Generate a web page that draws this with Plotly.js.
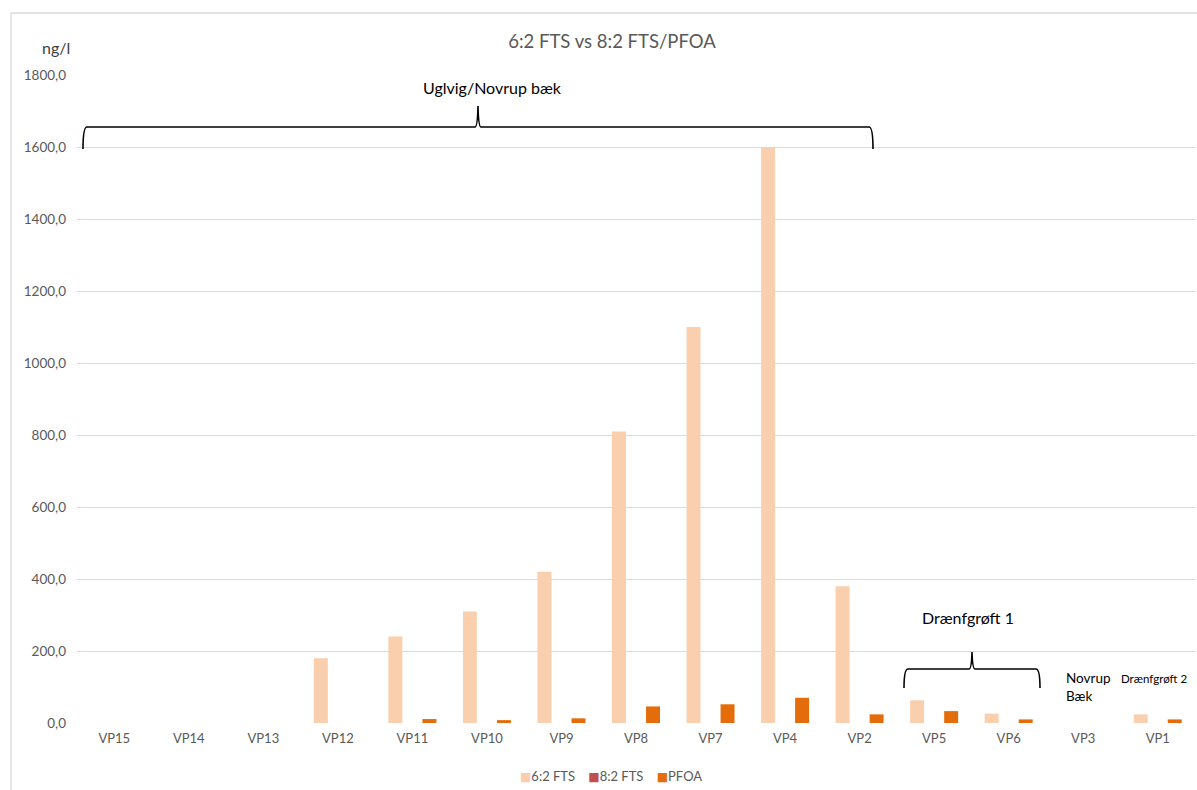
<!DOCTYPE html>
<html>
<head>
<meta charset="utf-8">
<script src="https://cdn.plot.ly/plotly-3.0.1.min.js"></script>
<style>
  html, body { margin: 0; padding: 0; background: #ffffff; }
  #chart { width: 1197px; height: 790px; }
</style>
</head>
<body>
<div id="chart"></div>
<script>
// Sampling points along Uglvig/Novrup bæk, Drænfgrøft 1/2 and Novrup Bæk
const categories = ['VP15', 'VP14', 'VP13', 'VP12', 'VP11', 'VP10', 'VP9', 'VP8', 'VP7', 'VP4', 'VP2', 'VP5', 'VP6', 'VP3', 'VP1'];

// Concentrations in ng/l
const fts62 = [0, 0, 0, 180, 240, 310, 420, 810, 1100, 1600, 380, 63, 26, 0, 24];
const fts82 = [0, 0, 0, 0, 0, 0, 0, 0, 0, 0, 0, 0, 0, 0, 0];
const pfoa  = [0, 0, 0, 0, 11, 8, 13, 46, 52, 70, 24, 33, 10, 0, 10];

const seriesNames = ['6:2 FTS', '8:2 FTS', 'PFOA'];
const seriesColors = ['#F9CFAE', '#C0504D', '#E46C0A'];

const yTicks = [0, 200, 400, 600, 800, 1000, 1200, 1400, 1600, 1800];
const yTickText = yTicks.map(v => v.toFixed(1).replace('.', ','));

const W = 1197, H = 790;
const M = { l: 77, r: 2, t: 75, b: 67 };
const PW = W - M.l - M.r, PH = H - M.t - M.b;
// pixel -> paper helpers for decorations
const px = x => (x - M.l) / PW;
const py = y => (H - M.b - y) / PH;

// curly brace opening downwards: ends at yEnd, bar at yBar, tip at yTip
function brace(x0, x1, xm, yEnd, yBar, yTip) {
  const r = 4;
  return 'M ' + px(x0) + ' ' + py(yEnd) +
    ' Q ' + px(x0) + ' ' + py(yBar) + ' ' + px(x0 + r) + ' ' + py(yBar) +
    ' L ' + px(xm - 3) + ' ' + py(yBar) +
    ' Q ' + px(xm - 0.5) + ' ' + py(yBar) + ' ' + px(xm) + ' ' + py(yTip) +
    ' Q ' + px(xm + 0.5) + ' ' + py(yBar) + ' ' + px(xm + 3) + ' ' + py(yBar) +
    ' L ' + px(x1 - r) + ' ' + py(yBar) +
    ' Q ' + px(x1) + ' ' + py(yBar) + ' ' + px(x1) + ' ' + py(yEnd);
}

const font = 'Lato, Carlito, "Open Sans", sans-serif';

const seriesValues = [fts62, fts82, pfoa];
const traces = seriesValues.map((vals, i) => ({
  type: 'bar', name: seriesNames[i], x: categories, y: vals,
  marker: { color: seriesColors[i] }
}));

// compact key under the axis: coloured square followed by the series name
const keyText = seriesNames
  .map((n, i) => '<span style="color:' + seriesColors[i] + ';font-family:DejaVu Sans;font-size:12px">■</span>' + n)
  .join('&nbsp;&nbsp;&nbsp;&nbsp;');

const layout = {
  width: W, height: H,
  margin: M,
  paper_bgcolor: '#ffffff',
  plot_bgcolor: '#ffffff',
  font: { family: font, color: '#595959', size: 13 },
  barmode: 'group',
  bargap: 0.315,
  bargroupgap: 0.18,
  showlegend: false,
  title: {
    text: '6:2 FTS vs 8:2 FTS/PFOA',
    font: { family: font, size: 18.5, color: '#595959' },
    xref: 'container', yref: 'container',
    x: 612 / W, y: 1 - 42 / H, xanchor: 'center', yanchor: 'middle'
  },
  xaxis: {
    type: 'category',
    showgrid: false, zeroline: false, showline: false,
    ticks: '', ticklabelstandoff: 6,
    tickfont: { family: font, size: 13, color: '#595959' }
  },
  yaxis: {
    range: [0, 1800],
    tickvals: yTicks, ticktext: yTickText,
    showgrid: true, gridcolor: '#D9D9D9', gridwidth: 1,
    zeroline: false, showline: false, ticks: '',
    ticklabelstandoff: 10,
    tickfont: { family: font, size: 13.5, color: '#595959' }
  },
  shapes: [
    // chart frame
    { type: 'line', xref: 'paper', yref: 'paper', x0: px(11), y0: py(13), x1: px(1200), y1: py(13), line: { color: '#D9D9D9', width: 1.3 } },
    { type: 'line', xref: 'paper', yref: 'paper', x0: px(11), y0: py(13), x1: px(11), y1: py(795), line: { color: '#D9D9D9', width: 1.3 } },
    // braces grouping the sampling stretches
    { type: 'path', xref: 'paper', yref: 'paper', path: brace(83, 873, 478, 149, 127, 106), line: { color: '#000000', width: 1.6 } },
    { type: 'path', xref: 'paper', yref: 'paper', path: brace(904, 1040, 972, 688, 669, 652), line: { color: '#000000', width: 1.6 } }
  ],
  annotations: [
    { text: keyText, xref: 'paper', yref: 'paper', x: px(611), y: py(776), xanchor: 'center', yanchor: 'middle', showarrow: false, font: { family: font, size: 13, color: '#595959' } },
    { text: 'ng/l', xref: 'paper', yref: 'paper', x: px(40), y: py(47), xanchor: 'left', yanchor: 'middle', showarrow: false, font: { family: font, size: 16, color: '#404040' } },
    { text: 'Uglvig/Novrup bæk', xref: 'paper', yref: 'paper', x: px(492), y: py(88), xanchor: 'center', yanchor: 'middle', showarrow: false, font: { family: font, size: 16, color: '#000000' } },
    { text: 'Drænfgrøft 1', xref: 'paper', yref: 'paper', x: px(968), y: py(617), xanchor: 'center', yanchor: 'middle', showarrow: false, font: { family: font, size: 16, color: '#000000' } },
    { text: 'Novrup<br>Bæk', xref: 'paper', yref: 'paper', x: px(1064), y: py(687), xanchor: 'left', yanchor: 'middle', align: 'left', showarrow: false, font: { family: font, size: 13.5, color: '#000000' } },
    { text: 'Drænfgrøft 2', xref: 'paper', yref: 'paper', x: px(1154), y: py(678), xanchor: 'center', yanchor: 'middle', showarrow: false, font: { family: font, size: 11.5, color: '#000000' } }
  ]
};

Plotly.newPlot('chart', traces, layout, { staticPlot: true, displayModeBar: false });
</script>
</body>
</html>
